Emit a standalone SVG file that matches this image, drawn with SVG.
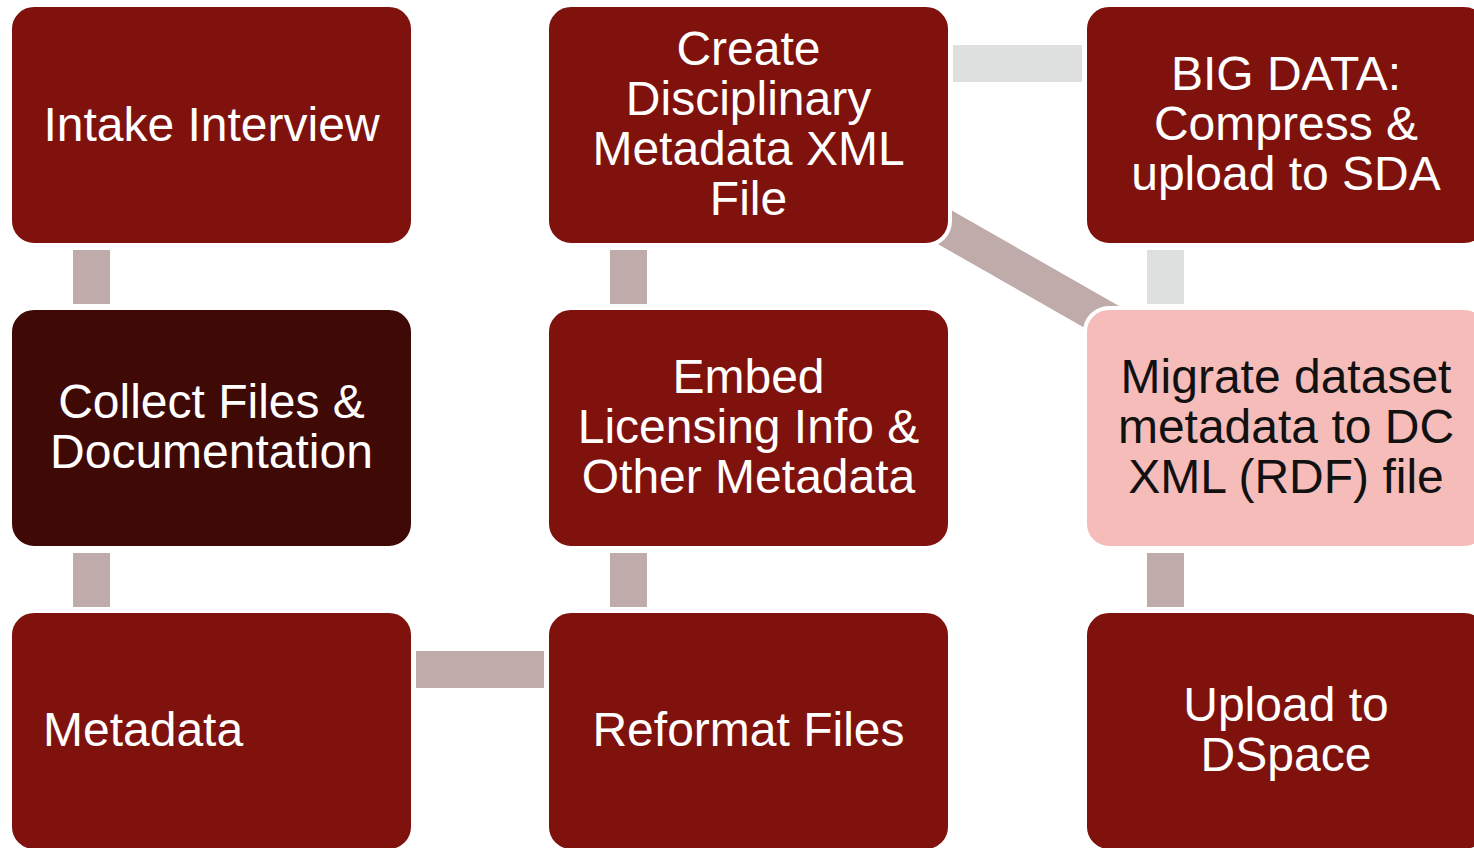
<svg xmlns="http://www.w3.org/2000/svg" width="1474" height="848" viewBox="0 0 1474 848">
  <style>
    .box { fill: #7F120D; stroke: #FFFFFF; stroke-width: 4; }
    .dark { fill: #3F0906; }
    .pink { fill: #F5BCBA; }
    .lbl { font-family: "Liberation Sans", Arial, sans-serif; font-size: 48px; fill: #FFFFFF; text-anchor: middle; }
    .lbl-dark { fill: #111111; }
    .bar { fill: #BFABAA; }
    .bar-light { fill: #DEE0DF; }
  </style>
  <rect width="1474" height="848" fill="#FFFFFF"/>

  <!-- connectors sit beneath the boxes -->
  <g id="connectors">
    <line x1="748" y1="115" x2="1286" y2="422" stroke="#BFABAA" stroke-width="36"/>
    <rect class="bar" x="73" y="250" width="37" height="54"/>
    <rect class="bar" x="73" y="553" width="37" height="54"/>
    <rect class="bar" x="610" y="250" width="37" height="54"/>
    <rect class="bar" x="610" y="553" width="37" height="54"/>
    <rect class="bar-light" x="1147" y="250" width="37" height="54"/>
    <rect class="bar" x="1147" y="553" width="37" height="54"/>
    <rect class="bar" x="416" y="651" width="128" height="37"/>
    <rect class="bar-light" x="953" y="45" width="129" height="37"/>
  </g>

  <g id="intake-interview">
    <rect class="box" x="10" y="5" width="403" height="240" rx="24"/>
    <text class="lbl" x="211.5" y="141">Intake Interview</text>
  </g>

  <g id="collect-files">
    <rect class="box dark" x="10" y="308" width="403" height="240" rx="24"/>
    <text class="lbl" x="211.5" y="418">Collect Files &amp;</text>
    <text class="lbl" x="211.5" y="468">Documentation</text>
  </g>

  <g id="metadata">
    <rect class="box" x="10" y="611" width="403" height="240" rx="24"/>
    <text class="lbl" x="43" y="746" style="text-anchor:start">Metadata</text>
  </g>

  <g id="create-xml">
    <rect class="box" x="547" y="5" width="403" height="240" rx="24"/>
    <text class="lbl" x="748.5" y="65">Create</text>
    <text class="lbl" x="748.5" y="115">Disciplinary</text>
    <text class="lbl" x="748.5" y="165">Metadata XML</text>
    <text class="lbl" x="748.5" y="215">File</text>
  </g>

  <g id="embed-licensing">
    <rect class="box" x="547" y="308" width="403" height="240" rx="24"/>
    <text class="lbl" x="748.5" y="393">Embed</text>
    <text class="lbl" x="748.5" y="443">Licensing Info &amp;</text>
    <text class="lbl" x="748.5" y="493">Other Metadata</text>
  </g>

  <g id="reformat-files">
    <rect class="box" x="547" y="611" width="403" height="240" rx="24"/>
    <text class="lbl" x="748.5" y="746">Reformat Files</text>
  </g>

  <g id="big-data">
    <rect class="box" x="1085" y="5" width="403" height="240" rx="24"/>
    <text class="lbl" x="1286" y="90">BIG DATA:</text>
    <text class="lbl" x="1286" y="140">Compress &amp;</text>
    <text class="lbl" x="1286" y="190">upload to SDA</text>
  </g>

  <g id="migrate-metadata">
    <rect class="box pink" x="1085" y="308" width="403" height="240" rx="24"/>
    <text class="lbl lbl-dark" x="1286" y="393">Migrate dataset</text>
    <text class="lbl lbl-dark" x="1286" y="443">metadata to DC</text>
    <text class="lbl lbl-dark" x="1286" y="493">XML (RDF) file</text>
  </g>

  <g id="upload-dspace">
    <rect class="box" x="1085" y="611" width="403" height="240" rx="24"/>
    <text class="lbl" x="1286" y="721">Upload to</text>
    <text class="lbl" x="1286" y="771">DSpace</text>
  </g>
</svg>
